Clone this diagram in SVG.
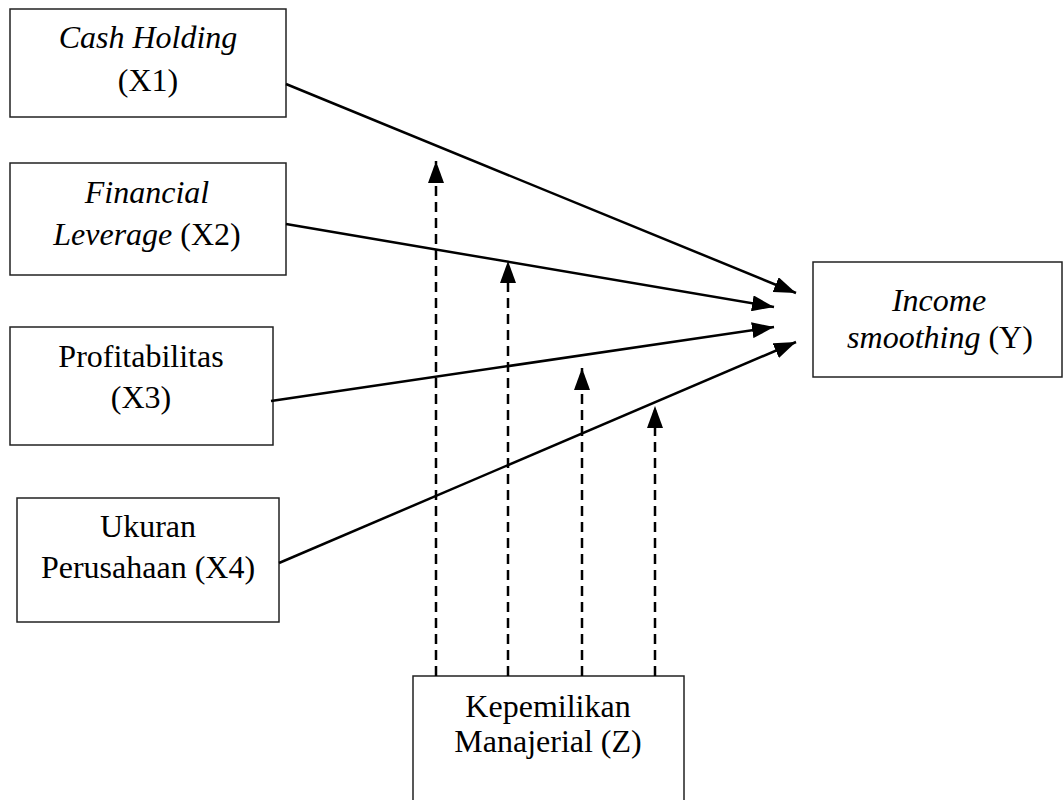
<svg xmlns="http://www.w3.org/2000/svg" width="1064" height="800" viewBox="0 0 1064 800">
<style>
.box{fill:#fff;stroke:#222;stroke-width:1.5}
.t{font-family:"Liberation Serif","Times New Roman",serif;font-size:32px;fill:#000;text-anchor:middle}
.i{font-style:italic}
.solid{stroke:#000;stroke-width:2.5;fill:none}
.dash{stroke:#000;stroke-width:2.5;fill:none;stroke-dasharray:10 6}
</style>
<defs>
<marker id="a" viewBox="0 0 22 16" refX="22" refY="8" markerWidth="22" markerHeight="16" orient="auto" markerUnits="userSpaceOnUse">
<path d="M0,0 L22,8 L0,16 Z" fill="#000"/>
</marker>
</defs>
<rect width="1064" height="800" fill="#fff"/>
<g id="x1">
<rect class="box" x="10" y="9" width="276" height="108"/>
<text class="t" x="148" y="48"><tspan class="i">Cash Holding</tspan></text>
<text class="t" x="148" y="91">(X1)</text>
</g>
<g id="x2">
<rect class="box" x="10" y="163" width="276" height="112"/>
<text class="t i" x="147" y="203">Financial</text>
<text class="t" x="147" y="245"><tspan class="i">Leverage</tspan> (X2)</text>
</g>
<g id="x3">
<rect class="box" x="10" y="327" width="263" height="118"/>
<text class="t" x="141" y="367">Profitabilitas</text>
<text class="t" x="141" y="408">(X3)</text>
</g>
<g id="x4">
<rect class="box" x="17" y="498" width="262" height="124"/>
<text class="t" x="148" y="537">Ukuran</text>
<text class="t" x="148" y="578">Perusahaan (X4)</text>
</g>
<g id="y">
<rect class="box" x="813" y="262" width="249" height="115"/>
<text class="t i" x="939" y="311">Income</text>
<text class="t" x="940" y="348"><tspan class="i">smoothing</tspan> (Y)</text>
</g>
<g id="z">
<rect class="box" x="413" y="676" width="271" height="140"/>
<text class="t" x="548" y="717">Kepemilikan</text>
<text class="t" x="548" y="752">Manajerial (Z)</text>
</g>
<g id="connectors">
<line class="solid" x1="286" y1="84" x2="796" y2="293" marker-end="url(#a)"/>
<line class="solid" x1="286" y1="224" x2="774" y2="307" marker-end="url(#a)"/>
<line class="solid" x1="271" y1="401" x2="774" y2="327" marker-end="url(#a)"/>
<line class="solid" x1="279" y1="563" x2="796" y2="342" marker-end="url(#a)"/>
<line class="dash" x1="436" y1="676" x2="436" y2="161" marker-end="url(#a)"/>
<line class="dash" x1="508" y1="676" x2="508" y2="261" marker-end="url(#a)"/>
<line class="dash" x1="582" y1="676" x2="582" y2="368" marker-end="url(#a)"/>
<line class="dash" x1="655" y1="676" x2="655" y2="406" marker-end="url(#a)"/>
</g>
</svg>
